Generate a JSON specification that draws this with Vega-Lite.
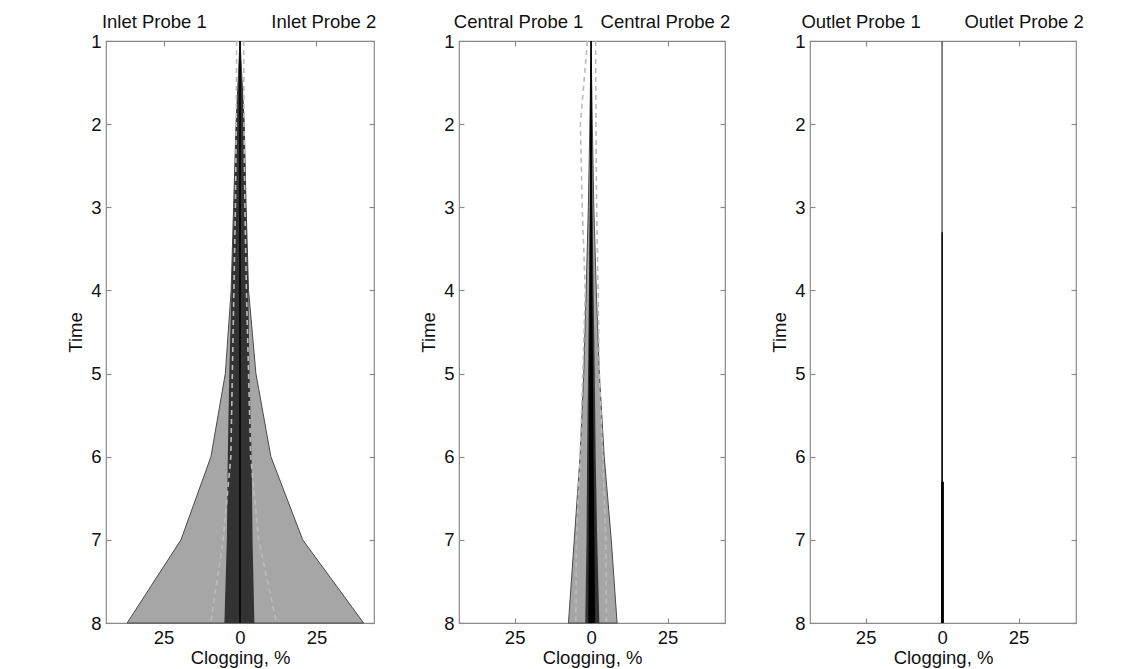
{
  "$schema": "https://vega.github.io/schema/vega-lite/v6.json",
  "padding": {"left": 66, "top": 12, "right": 0, "bottom": 0},
  "background": "white",
  "config": {
    "font": "Liberation Sans",
    "view": {"stroke": "#8a8a8a", "strokeWidth": 1.2},
    "axis": {
      "labelFont": "Liberation Sans", "labelFontSize": 18.5, "labelColor": "#111",
      "titleFont": "Liberation Sans", "titleFontSize": 18.5, "titleFontWeight": "normal", "titleColor": "#111",
      "domain": false, "grid": false, "tickColor": "#8a8a8a", "tickSize": -5, "tickWidth": 1.2,
      "labelPadding": 10, "titlePadding": 2
    },
    "axisLeft": {"titlePadding": 5},
    "text": {"font": "Liberation Sans", "fontSize": 18.5, "color": "#111"}
  },
  "datasets": {
    "inlet_bands": [
      {"band": "outer", "t": 1, "lo": 0, "hi": 0},
      {"band": "outer", "t": 2, "lo": -1.3, "hi": 1.4},
      {"band": "outer", "t": 3, "lo": -2.1, "hi": 2.0},
      {"band": "outer", "t": 4, "lo": -2.9, "hi": 2.8},
      {"band": "outer", "t": 5, "lo": -4.8, "hi": 5.2},
      {"band": "outer", "t": 6, "lo": -9.5, "hi": 10.1},
      {"band": "outer", "t": 7, "lo": -19.3, "hi": 20.5},
      {"band": "outer", "t": 8, "lo": -36.9, "hi": 40.4},
      {"band": "dark", "t": 1, "lo": 0, "hi": 0},
      {"band": "dark", "t": 2, "lo": -1.3, "hi": 1.4},
      {"band": "dark", "t": 3, "lo": -2.0, "hi": 2.0},
      {"band": "dark", "t": 4, "lo": -2.8, "hi": 2.7},
      {"band": "dark", "t": 5, "lo": -3.5, "hi": 3.1},
      {"band": "dark", "t": 6, "lo": -4.0, "hi": 3.8},
      {"band": "dark", "t": 7, "lo": -4.3, "hi": 4.1},
      {"band": "dark", "t": 8, "lo": -5.1, "hi": 4.7}
    ],
    "inlet_dash": [
      {"side": "Probe 1", "t": 1, "v": -1.1}, {"side": "Probe 1", "t": 2, "v": -1.2},
      {"side": "Probe 1", "t": 3, "v": -1.5}, {"side": "Probe 1", "t": 4, "v": -2.0},
      {"side": "Probe 1", "t": 5, "v": -2.5}, {"side": "Probe 1", "t": 6, "v": -3.0},
      {"side": "Probe 1", "t": 7, "v": -5.5}, {"side": "Probe 1", "t": 8, "v": -9.6},
      {"side": "Probe 2", "t": 1, "v": 1.2}, {"side": "Probe 2", "t": 2, "v": 1.3},
      {"side": "Probe 2", "t": 3, "v": 1.6}, {"side": "Probe 2", "t": 4, "v": 2.1},
      {"side": "Probe 2", "t": 5, "v": 2.8}, {"side": "Probe 2", "t": 6, "v": 3.5},
      {"side": "Probe 2", "t": 7, "v": 6.1}, {"side": "Probe 2", "t": 8, "v": 11.9}
    ],
    "central_bands": [
      {"band": "outer", "t": 1, "lo": 0, "hi": 0},
      {"band": "outer", "t": 2, "lo": -0.4, "hi": 0.4},
      {"band": "outer", "t": 3, "lo": -0.9, "hi": 0.9},
      {"band": "outer", "t": 4, "lo": -1.6, "hi": 1.7},
      {"band": "outer", "t": 5, "lo": -2.4, "hi": 2.7},
      {"band": "outer", "t": 6, "lo": -3.6, "hi": 4.3},
      {"band": "outer", "t": 7, "lo": -5.5, "hi": 6.6},
      {"band": "outer", "t": 8, "lo": -7.4, "hi": 8.5},
      {"band": "dark", "t": 1, "lo": 0, "hi": 0},
      {"band": "dark", "t": 2, "lo": -0.2, "hi": 0.3},
      {"band": "dark", "t": 3, "lo": -0.4, "hi": 0.5},
      {"band": "dark", "t": 4, "lo": -0.7, "hi": 0.8},
      {"band": "dark", "t": 5, "lo": -1.0, "hi": 1.2},
      {"band": "dark", "t": 6, "lo": -1.3, "hi": 1.5},
      {"band": "dark", "t": 7, "lo": -1.5, "hi": 2.0},
      {"band": "dark", "t": 8, "lo": -1.9, "hi": 2.7},
      {"band": "black", "t": 1, "lo": 0, "hi": 0},
      {"band": "black", "t": 2, "lo": -0.3, "hi": 0.1},
      {"band": "black", "t": 3, "lo": -0.4, "hi": 0.3},
      {"band": "black", "t": 4, "lo": -0.5, "hi": 0.4},
      {"band": "black", "t": 5, "lo": -0.6, "hi": 0.6},
      {"band": "black", "t": 6, "lo": -0.7, "hi": 0.8},
      {"band": "black", "t": 7, "lo": -0.8, "hi": 1.1},
      {"band": "black", "t": 8, "lo": -0.9, "hi": 1.3}
    ],
    "central_dash": [
      {"side": "Probe 1", "t": 1, "v": -1.2}, {"side": "Probe 1", "t": 2, "v": -3.5},
      {"side": "Probe 1", "t": 3, "v": -2.9}, {"side": "Probe 1", "t": 4, "v": -1.9},
      {"side": "Probe 1", "t": 5, "v": -2.7}, {"side": "Probe 1", "t": 6, "v": -3.6},
      {"side": "Probe 1", "t": 7, "v": -4.8}, {"side": "Probe 1", "t": 8, "v": -5.0},
      {"side": "Probe 2", "t": 1, "v": 1.5}, {"side": "Probe 2", "t": 2, "v": 1.6},
      {"side": "Probe 2", "t": 3, "v": 1.8}, {"side": "Probe 2", "t": 4, "v": 2.3},
      {"side": "Probe 2", "t": 5, "v": 2.7}, {"side": "Probe 2", "t": 6, "v": 3.8},
      {"side": "Probe 2", "t": 7, "v": 4.8}, {"side": "Probe 2", "t": 8, "v": 5.0}
    ],
    "outlet_bands": [
      {"band": "black", "t": 3.3, "lo": -0.2, "hi": 0.25},
      {"band": "black", "t": 6.3, "lo": -0.2, "hi": 0.25},
      {"band": "black", "t": 6.3, "lo": -0.35, "hi": 0.6},
      {"band": "black", "t": 8, "lo": -0.35, "hi": 0.6}
    ],
    "median": [
      {"t": 1, "v": 0}, {"t": 8, "v": 0}
    ]
  },
  "hconcat": [
    {
      "width": 268, "height": 582,
      "layer": [
        {
          "data": {"name": "inlet_bands"},
          "transform": [{"filter": "datum.band === 'outer'"}],
          "mark": {"type": "area", "orient": "horizontal", "fill": "#a6a6a6", "stroke": "#4a4a4a", "strokeWidth": 1},
          "encoding": {
            "y": {"field": "t", "type": "quantitative", "scale": {"domain": [1, 8], "reverse": true, "nice": false, "zero": false}, "axis": {"orient": "left", "values": [1,2,3,4,5,6,7,8], "title": "Time"}},
            "x": {"field": "lo", "type": "quantitative", "scale": {"domain": [-43.8, 43.8], "nice": false, "zero": false}, "axis": {"orient": "bottom", "values": [-25, 0, 25], "labelExpr": "format(abs(datum.value), 'd')", "title": "Clogging, %"}},
            "x2": {"field": "hi"}
          }
        },
        {
          "data": {"name": "inlet_bands"},
          "transform": [{"filter": "datum.band === 'dark'"}],
          "mark": {"type": "area", "orient": "horizontal", "fill": "#333333"},
          "encoding": {
            "y": {"field": "t", "type": "quantitative", "scale": {"domain": [1, 8], "reverse": true, "nice": false, "zero": false}, "axis": {"orient": "right", "values": [1,2,3,4,5,6,7,8], "labels": false, "title": null}},
            "x": {"field": "lo", "type": "quantitative", "scale": {"domain": [-43.8, 43.8], "nice": false, "zero": false}, "axis": {"orient": "top", "values": [-25, 0, 25], "labels": false, "title": null}},
            "x2": {"field": "hi"}
          }
        },
        {
          "data": {"name": "median"},
          "mark": {"type": "line", "color": "#000000", "strokeWidth": 1.5},
          "encoding": {
            "y": {"field": "t", "type": "quantitative", "axis": null},
            "x": {"field": "v", "type": "quantitative", "axis": null},
            "order": {"field": "t"}
          }
        },
        {
          "data": {"name": "inlet_dash"},
          "mark": {"type": "line", "color": "#bcbcbc", "strokeWidth": 1.6, "strokeDash": [5, 4]},
          "encoding": {
            "y": {"field": "t", "type": "quantitative", "axis": null},
            "x": {"field": "v", "type": "quantitative", "axis": null},
            "detail": {"field": "side"},
            "order": {"field": "t"}
          }
        },
        {
          "data": {"values": [{"label": "Inlet Probe 1"}]},
          "mark": {"type": "text", "align": "center", "baseline": "alphabetic", "clip": false},
          "encoding": {
            "x": {"datum": -28, "type": "quantitative", "axis": null},
            "y": {"datum": 0.845, "type": "quantitative", "axis": null},
            "text": {"field": "label"}
          }
        },
        {
          "data": {"values": [{"label": "Inlet Probe 2"}]},
          "mark": {"type": "text", "align": "center", "baseline": "alphabetic", "clip": false},
          "encoding": {
            "x": {"datum": 27.4, "type": "quantitative", "axis": null},
            "y": {"datum": 0.845, "type": "quantitative", "axis": null},
            "text": {"field": "label"}
          }
        }
      ]
    },
    {
      "width": 266, "height": 582,
      "layer": [
        {
          "data": {"name": "central_bands"},
          "transform": [{"filter": "datum.band === 'outer'"}],
          "mark": {"type": "area", "orient": "horizontal", "fill": "#a6a6a6", "stroke": "#4a4a4a", "strokeWidth": 1},
          "encoding": {
            "y": {"field": "t", "type": "quantitative", "scale": {"domain": [1, 8], "reverse": true, "nice": false, "zero": false}, "axis": {"orient": "left", "values": [1,2,3,4,5,6,7,8], "title": "Time"}},
            "x": {"field": "lo", "type": "quantitative", "scale": {"domain": [-43.2, 43.8], "nice": false, "zero": false}, "axis": {"orient": "bottom", "values": [-25, 0, 25], "labelExpr": "format(abs(datum.value), 'd')", "title": "Clogging, %"}},
            "x2": {"field": "hi"}
          }
        },
        {
          "data": {"name": "central_bands"},
          "transform": [{"filter": "datum.band === 'dark'"}],
          "mark": {"type": "area", "orient": "horizontal", "fill": "#333333"},
          "encoding": {
            "y": {"field": "t", "type": "quantitative", "scale": {"domain": [1, 8], "reverse": true, "nice": false, "zero": false}, "axis": {"orient": "right", "values": [1,2,3,4,5,6,7,8], "labels": false, "title": null}},
            "x": {"field": "lo", "type": "quantitative", "scale": {"domain": [-43.2, 43.8], "nice": false, "zero": false}, "axis": {"orient": "top", "values": [-25, 0, 25], "labels": false, "title": null}},
            "x2": {"field": "hi"}
          }
        },
        {
          "data": {"name": "median"},
          "mark": {"type": "line", "color": "#000000", "strokeWidth": 1.5},
          "encoding": {
            "y": {"field": "t", "type": "quantitative", "axis": null},
            "x": {"field": "v", "type": "quantitative", "axis": null},
            "order": {"field": "t"}
          }
        },
        {
          "data": {"name": "central_bands"},
          "transform": [{"filter": "datum.band === 'black'"}],
          "mark": {"type": "area", "orient": "horizontal", "fill": "#000000"},
          "encoding": {
            "y": {"field": "t", "type": "quantitative", "axis": null},
            "x": {"field": "lo", "type": "quantitative", "axis": null},
            "x2": {"field": "hi"}
          }
        },
        {
          "data": {"name": "central_dash"},
          "mark": {"type": "line", "color": "#bcbcbc", "strokeWidth": 1.6, "strokeDash": [5, 4]},
          "encoding": {
            "y": {"field": "t", "type": "quantitative", "axis": null},
            "x": {"field": "v", "type": "quantitative", "axis": null},
            "detail": {"field": "side"},
            "order": {"field": "t"}
          }
        },
        {
          "data": {"values": [{"label": "Central Probe 1"}]},
          "mark": {"type": "text", "align": "center", "baseline": "alphabetic", "clip": false},
          "encoding": {
            "x": {"datum": -23.7, "type": "quantitative", "axis": null},
            "y": {"datum": 0.845, "type": "quantitative", "axis": null},
            "text": {"field": "label"}
          }
        },
        {
          "data": {"values": [{"label": "Central Probe 2"}]},
          "mark": {"type": "text", "align": "center", "baseline": "alphabetic", "clip": false},
          "encoding": {
            "x": {"datum": 24.3, "type": "quantitative", "axis": null},
            "y": {"datum": 0.845, "type": "quantitative", "axis": null},
            "text": {"field": "label"}
          }
        }
      ]
    },
    {
      "width": 266, "height": 582,
      "layer": [
        {
          "data": {"name": "median"},
          "mark": {"type": "line", "color": "#6a6a6a", "strokeWidth": 1.6},
          "encoding": {
            "y": {"field": "t", "type": "quantitative", "scale": {"domain": [1, 8], "reverse": true, "nice": false, "zero": false}, "axis": {"orient": "left", "values": [1,2,3,4,5,6,7,8], "title": "Time"}},
            "x": {"field": "v", "type": "quantitative", "scale": {"domain": [-43.2, 43.8], "nice": false, "zero": false}, "axis": {"orient": "bottom", "values": [-25, 0, 25], "labelExpr": "format(abs(datum.value), 'd')", "title": "Clogging, %"}},
            "order": {"field": "t"}
          }
        },
        {
          "data": {"name": "outlet_bands"},
          "mark": {"type": "area", "orient": "horizontal", "fill": "#000000"},
          "encoding": {
            "y": {"field": "t", "type": "quantitative", "scale": {"domain": [1, 8], "reverse": true, "nice": false, "zero": false}, "axis": {"orient": "right", "values": [1,2,3,4,5,6,7,8], "labels": false, "title": null}},
            "x": {"field": "lo", "type": "quantitative", "scale": {"domain": [-43.2, 43.8], "nice": false, "zero": false}, "axis": {"orient": "top", "values": [-25, 0, 25], "labels": false, "title": null}},
            "x2": {"field": "hi"}
          }
        },
        {
          "data": {"values": [{"label": "Outlet Probe 1"}]},
          "mark": {"type": "text", "align": "center", "baseline": "alphabetic", "clip": false},
          "encoding": {
            "x": {"datum": -26.5, "type": "quantitative", "axis": null},
            "y": {"datum": 0.845, "type": "quantitative", "axis": null},
            "text": {"field": "label"}
          }
        },
        {
          "data": {"values": [{"label": "Outlet Probe 2"}]},
          "mark": {"type": "text", "align": "center", "baseline": "alphabetic", "clip": false},
          "encoding": {
            "x": {"datum": 26.8, "type": "quantitative", "axis": null},
            "y": {"datum": 0.845, "type": "quantitative", "axis": null},
            "text": {"field": "label"}
          }
        }
      ]
    }
  ],
  "bounds": "flush",
  "spacing": 85
}
